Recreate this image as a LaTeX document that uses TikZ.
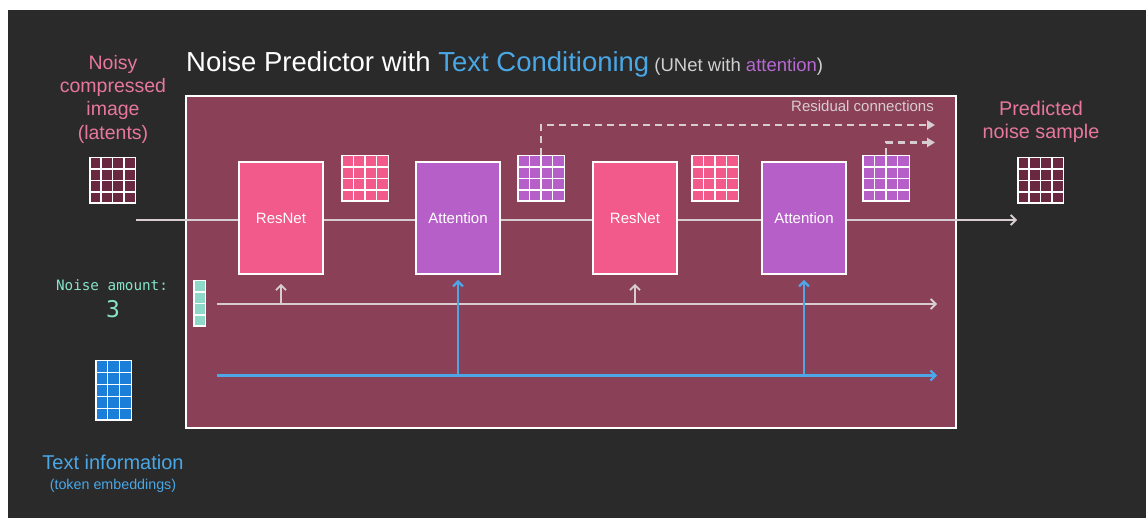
\documentclass[tikz,border=0pt]{standalone}
\usepackage{fontspec}
\setmainfont{Liberation Sans}
\newfontfamily\codefont{DejaVu Sans Mono}
\usetikzlibrary{arrows.meta}
\definecolor{bgc}{HTML}{2A2A2A}
\definecolor{unet}{HTML}{8A4157}
\definecolor{resc}{HTML}{F15A8A}
\definecolor{attc}{HTML}{B65FC8}
\definecolor{latc}{HTML}{6A2840}
\definecolor{tealc}{HTML}{8FD9C9}
\definecolor{bluec}{HTML}{1B7FD9}
\definecolor{blueline}{HTML}{4DA6E8}
\definecolor{pinktxt}{HTML}{E8779C}
\definecolor{titleblue}{HTML}{4AA7E6}
\definecolor{linec}{HTML}{D8CCD3}
\definecolor{grayt}{HTML}{D0D0D0}
\definecolor{monot}{HTML}{86E3C8}
\definecolor{attt}{HTML}{B868D2}
\newcommand\cellgrid[8]{% x y w h cols rows color name
  \fill[white] (#1,#2) rectangle ++(#3,#4);
  \pgfmathsetmacro\cw{(#3-1.5*(#5+1))/#5}
  \pgfmathsetmacro\ch{(#4-1.5*(#6+1))/#6}
  \foreach \i in {1,...,#5}{\foreach \j in {1,...,#6}{
    \fill[#7] ({#1+1.5+(\i-1)*(\cw+1.5)},{#2+1.5+(\j-1)*(\ch+1.5)}) rectangle ++(\cw,\ch);}}
  \node[inner sep=0pt, minimum width=#3pt, minimum height=#4pt, anchor=north west] (#8) at (#1,#2) {};
}
\tikzset{
  blockbox/.style={draw=white, line width=1.8pt, minimum width=84pt, minimum height=112pt, inner sep=0pt, text=white, font=\fontsize{15}{18}\selectfont},
  resbox/.style={blockbox, fill=resc},
  attbox/.style={blockbox, fill=attc},
  gline/.style={draw=linec, line width=1.8pt},
  garrow/.style={gline, -{Straight Barb[length=5pt,width=10pt,line width=1.8pt]}},
  barrow/.style={draw=blueline, line width=2.4pt, -{Straight Barb[length=5pt,width=10pt,line width=2.2pt]}},
  bline/.style={draw=blueline, line width=2.4pt},
  resid/.style={draw=linec, line width=2.4pt, dash pattern=on 7pt off 5pt, -{Triangle[length=8pt,width=9pt]}},
  lbl/.style={inner sep=0pt, align=center},
}
\begin{document}
\begin{tikzpicture}[x=1pt,y=-1pt]
\useasboundingbox (0,0) rectangle (1146,518);
\fill[white] (0,0) rectangle (1146,518);
\fill[bgc] (8,10) rectangle (1146,518);

% title
\node[anchor=base west, inner sep=0pt, text=white] (title) at (186,72)
  {\fontsize{27.5}{32}\selectfont Noise Predictor with \textcolor{titleblue}{Text Conditioning}\fontsize{18.5}{22}\selectfont\space\textcolor{grayt}{(UNet with }\textcolor{attt}{attention}\textcolor{grayt}{)}};

% unet box
\node[draw=white, line width=2.2pt, fill=unet, minimum width=770pt, minimum height=332pt, inner sep=0pt, anchor=north west] (unetbox) at (185,95) {};

% left labels
\node[lbl, anchor=north, text=pinktxt, font=\fontsize{19.5}{23.3}\selectfont] (noisy) at (113,55) {Noisy\\compressed\\image\\(latents)};
\node[lbl, anchor=north, text=pinktxt, font=\fontsize{19.8}{23}\selectfont] (pred) at (1041,100.5) {Predicted\\noise sample};
\node[lbl, anchor=base east, text=linec, font=\fontsize{15}{18}\selectfont] (resid) at (934,112) {Residual connections};

\node[lbl, anchor=base, text=monot, font=\codefont\fontsize{14.3}{17}\selectfont] (namt) at (112,291) {Noise amount:};
\node[lbl, anchor=base, text=monot, font=\codefont\fontsize{23}{26}\selectfont] (nval) at (113,318) {3};

\node[lbl, anchor=base, text=titleblue, font=\fontsize{20}{24}\selectfont] (tinfo) at (113,469) {Text information};
\node[lbl, anchor=base, text=titleblue, font=\fontsize{14.3}{17}\selectfont] (temb) at (113,489) {(token embeddings)};

% grids
\cellgrid{89}{157}{47}{47}{4}{4}{latc}{latin}
\cellgrid{341}{155}{48}{47}{4}{4}{resc}{pg1}
\cellgrid{517}{155}{48}{47}{4}{4}{attc}{ag1}
\cellgrid{691}{155}{48}{47}{4}{4}{resc}{pg2}
\cellgrid{862}{155}{48}{47}{4}{4}{attc}{ag2}
\cellgrid{1017}{157}{47}{47}{4}{4}{latc}{latout}
\cellgrid{193}{280}{13}{47}{1}{4}{tealc}{nvec}
\cellgrid{95}{360}{37}{61}{3}{5}{bluec}{tvec}

% blocks
\node[resbox] (res1) at (281,218) {ResNet};
\node[attbox] (att1) at (458,218) {Attention};
\node[resbox] (res2) at (635,218) {ResNet};
\node[attbox] (att2) at (804,218) {Attention};

% coordinates
\coordinate (inp) at (136,220);
\coordinate (outp) at (1017,220);
\coordinate (nstart) at (217,304);
\coordinate (nend) at (937,304);
\coordinate (bstart) at (217,375.5);
\coordinate (bend) at (937,375.5);
\coordinate (r1end) at (935,125);
\coordinate (r2end) at (935,142.5);

% main path
\draw[gline] (inp) -- (inp -| res1.west);
\draw[gline] (res1.east |- inp) -- (inp -| att1.west);
\draw[gline] (att1.east |- inp) -- (inp -| res2.west);
\draw[gline] (res2.east |- inp) -- (inp -| att2.west);
\draw[garrow] (att2.east |- inp) -- (outp);

% noise amount line
\draw[garrow] (nstart) -- (nend);
\draw[garrow, shorten >=9pt] (res1.south |- nstart) -- (res1.south);
\draw[garrow, shorten >=9pt] (res2.south |- nstart) -- (res2.south);

% text conditioning line
\draw[barrow] (bstart) -- (bend);
\draw[barrow, shorten >=5pt] (att1.south |- bstart) -- (att1.south);
\draw[barrow, shorten >=5pt] (att2.south |- bstart) -- (att2.south);

% residual connections
\draw[resid] (ag1.north) |- (r1end);
\draw[resid] (ag2.north) |- (r2end);
\end{tikzpicture}
\end{document}
